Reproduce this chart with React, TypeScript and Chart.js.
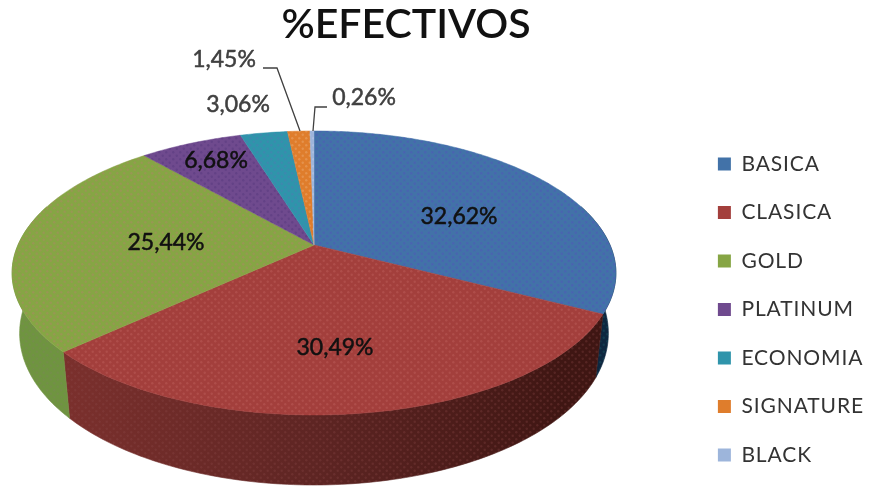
import React, { useEffect, useRef } from "react";
import { Chart, registerables } from "chart.js";

Chart.register(...registerables);

const categories = ["BASICA", "CLASICA", "GOLD", "PLATINUM", "ECONOMIA", "SIGNATURE", "BLACK"];
const shares = [32.62, 30.49, 25.44, 6.68, 3.06, 1.45, 0.26];
const topColors = ["#4272a8", "#a33f3c", "#86a544", "#6f4a8e", "#2f94ab", "#df7d2c", "#9db5db"];
const dotColors = ["#5058b8", "#b85a55", "#a88a62", "#5a3a80", "#4a80b0", "#eaa468", "#b8c8e8"];
const wallDotColors = ["#1f6a70", "#8a4a48", "#7f8060"];
const chartTitle = "%EFECTIVOS";

// [x, y] centre of each percentage label
const labelSpots = [[459, 217], [335, 348], [166, 243], [216, 161], [238, 105], [224, 60], [364, 98]];
const labelInk = ["#111", "#111", "#111", "#111", "#404040", "#404040", "#404040"];
const leaders: Record<number, number[][]> = {
  5: [[263, 68], [277, 68], [300, 131]],
  6: [[327, 107], [315, 107], [313, 131]],
};
const wallStops: Record<number, string[]> = {
  0: ["#12304f", "#0e2740"],
  1: ["#7b302d", "#5e2523", "#3f1613"],
  2: ["#6f9440", "#6f9440"],
};

// perspective projection of the unit disc
const view = { cx: 314, cy: 245, a: 296, b: 136.5, k: -0.197, wall: 58, wallNear: 12, shrink: 0.975 };
const legendShift = { x: 5, bottom: 493 };

function project(angle: number) {
  const X = Math.cos(angle), Y = Math.sin(angle);
  const d = 1 + view.k * Y;
  return { x: view.cx + (view.a * X) / d, y: view.cy + (view.b * Y) / d, Y };
}
function projectBase(angle: number) {
  const p = project(angle);
  return { x: view.cx + view.shrink * (p.x - view.cx), y: p.y + view.wall + view.wallNear * p.Y };
}
function steps(a0: number, a1: number) {
  const n = Math.max(2, Math.ceil(Math.abs(a1 - a0) * 60));
  return Array.from({ length: n + 1 }, (_, i) => a0 + ((a1 - a0) * i) / n);
}
function dots(ctx: CanvasRenderingContext2D, color: string, alpha: number) {
  const c = document.createElement("canvas");
  c.width = 7;
  c.height = 7;
  const d = c.getContext("2d")!;
  d.fillStyle = color;
  d.globalAlpha = alpha;
  [[1.75, 1.75], [5.25, 5.25]].forEach(([x, y]) => {
    d.beginPath();
    d.arc(x, y, 1.2, 0, Math.PI * 2);
    d.fill();
  });
  return ctx.createPattern(c, "repeat")!;
}

const pie3d = {
  id: "pie3d",
  beforeLayout(chart: any) {
    chart.ctx.letterSpacing = "0.9px";
  },
  beforeDatasetDraw(chart: any, args: any) {
    const ctx = chart.ctx;
    const arcs = args.meta.data;
    ctx.save();
    (ctx as any).letterSpacing = "0px";
    // side wall
    arcs.forEach((arc: any, i: number) => {
      const a0 = Math.max(arc.startAngle, -0.3);
      const a1 = Math.min(arc.endAngle, Math.PI + 0.3);
      if (a1 <= a0 || !wallStops[i]) return;
      const g = ctx.createLinearGradient(view.cx - 250, 0, view.cx + 250, 0);
      wallStops[i].forEach((c, j, all) => g.addColorStop(j / (all.length - 1), c));
      ctx.beginPath();
      const s = steps(a0, a1);
      s.forEach((t, j) => {
        const p = project(t);
        j ? ctx.lineTo(p.x, p.y) : ctx.moveTo(p.x, p.y);
      });
      [...s].reverse().forEach((t) => {
        const p = projectBase(t);
        ctx.lineTo(p.x, p.y);
      });
      ctx.closePath();
      ctx.fillStyle = g;
      ctx.strokeStyle = g;
      ctx.lineWidth = 0.6;
      ctx.fill();
      ctx.stroke();
      ctx.fillStyle = dots(ctx, wallDotColors[i], 0.3);
      ctx.fill();
    });
    // top face
    arcs.forEach((arc: any, i: number) => {
      ctx.beginPath();
      ctx.moveTo(view.cx, view.cy);
      steps(arc.startAngle, arc.endAngle).forEach((t) => {
        const p = project(t);
        ctx.lineTo(p.x, p.y);
      });
      ctx.closePath();
      ctx.fillStyle = topColors[i];
      ctx.strokeStyle = topColors[i];
      ctx.lineWidth = 0.5;
      ctx.fill();
      ctx.stroke();
      ctx.fillStyle = dots(ctx, dotColors[i], 0.55);
      ctx.fill();
    });
    // leader lines
    ctx.strokeStyle = "#404040";
    ctx.lineWidth = 1.3;
    Object.values(leaders).forEach((pts) => {
      ctx.beginPath();
      pts.forEach((p, j) => (j ? ctx.lineTo(p[0], p[1]) : ctx.moveTo(p[0], p[1])));
      ctx.stroke();
    });
    // value labels
    ctx.font = "23px Lato";
    ctx.textAlign = "center";
    ctx.textBaseline = "middle";
    ctx.lineJoin = "round";
    shares.forEach((v, i) => {
      const text = v.toFixed(2).replace(".", ",") + "%";
      ctx.fillStyle = labelInk[i];
      ctx.strokeStyle = labelInk[i];
      ctx.lineWidth = 0.5;
      ctx.fillText(text, labelSpots[i][0], labelSpots[i][1]);
      ctx.strokeText(text, labelSpots[i][0], labelSpots[i][1]);
    });
    ctx.restore();
    return false;
  },
  afterLayout(chart: any) {
    const t = chart.titleBlock;
    t.left = 0;
    t.right = 812;
    const baseDraw = t.draw.bind(t);
    t.draw = () => {
      const ctx = chart.ctx;
      ctx.save();
      ctx.letterSpacing = "0px";
      baseDraw();
      ctx.restore();
    };
    const lg = chart.legend;
    lg.left += legendShift.x;
    lg.bottom = legendShift.bottom;
  },
};

export default function App() {
  const ref = useRef<HTMLCanvasElement>(null);
  useEffect(() => {
    document.body.style.margin = "0";
    document.body.style.background = "#fff";
    const chart = new Chart(ref.current!, {
      type: "pie",
      data: {
        labels: categories,
        datasets: [{ data: shares, backgroundColor: topColors, borderWidth: 0 }],
      },
      options: {
        responsive: false,
        animation: false,
        layout: { padding: { right: 0, bottom: 20 } },
        plugins: {
          tooltip: { enabled: false },
          title: {
            display: true,
            text: chartTitle,
            color: "#111",
            font: { family: "Lato", size: 41, weight: "600" },
            padding: 0,
          },
          legend: {
            position: "right",
            align: "end",
            labels: {
              boxWidth: 13,
              boxHeight: 13,
              padding: 27.5,
              color: "#333",
              font: { family: "Lato", size: 21 },
            },
          },
        },
      },
      plugins: [pie3d],
    } as any);
    return () => chart.destroy();
  }, []);
  return <canvas ref={ref} width={869} height={486} style={{ display: "block" }} />;
}
